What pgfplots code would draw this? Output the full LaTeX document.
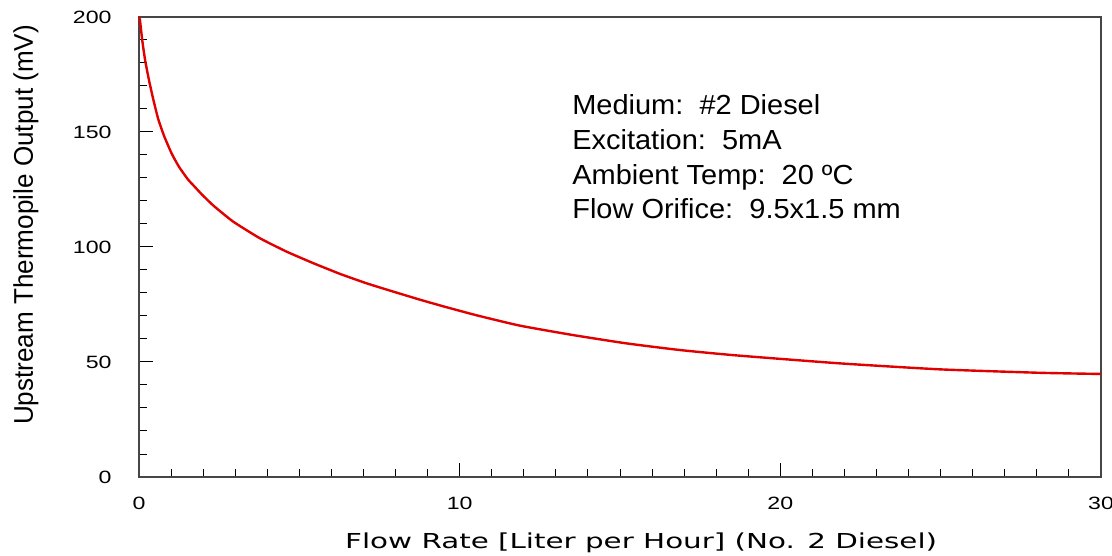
\documentclass[border=0pt]{standalone}
\usepackage{pgfplots}
\pgfplotsset{compat=1.18}
\usepackage{fontspec}
\setmainfont{Liberation Sans}
\newfontfamily\wide{DejaVu Sans}
\usetikzlibrary{calc}
\definecolor{curvered}{RGB}{225,0,0}
\definecolor{axgray}{RGB}{70,70,70}
\begin{document}
\begin{tikzpicture}
\path[use as bounding box] (-69.5pt,-39.5pt) rectangle (486.5pt,238.5pt);
\begin{axis}[
  scale only axis,
  width=481pt, height=230pt,
  xmin=0, xmax=30, ymin=0, ymax=200,
  xtick={0,10,20,30}, ytick={0,50,100,150,200},
  minor x tick num=9, minor y tick num=4,
  tick pos=left, tick align=inside,
  major tick length=7pt, minor tick length=4pt,
  axis line style={axgray, line width=0.6pt},
  every tick/.style={black, line width=0.5pt},
  /pgf/number format/assume math mode=true,
  ticklabel style={font=\fontsize{8.9}{9}\selectfont},
  xticklabel={\scalebox{1.3}[1]{\pgfmathprintnumber{\tick}}},
  yticklabel={\scalebox{1.3}[1]{\pgfmathprintnumber{\tick}}},
  xticklabel style={anchor=north, inner sep=0pt, yshift=-10pt},
  yticklabel style={anchor=east, inner sep=0pt, xshift=-13.5pt},
  clip=false,
]
\addplot[curvered, line width=1.2pt, smooth, tension=0.3] coordinates {
(0,200) (0.03,198.7) (0.10,190) (0.19,181.3) (0.31,172.6) (0.45,163.9)
(0.60,155.6) (0.79,148) (1.02,140.6) (1.25,134.8) (1.53,129.3) (1.69,126.9)
(1.95,123.0) (2.32,118.0) (2.94,111.0) (3.77,103.8) (4.60,98.0) (5.43,93.0)
(6.27,88.3) (7.10,84.2) (7.93,80.6) (8.76,77.1) (9.49,74.2) (10.53,70.3)
(11.88,65.8) (13.54,61.7) (15.2,58.1) (16.87,55.2) (18.6,52.9) (21.86,49.4)
(24.98,46.8) (28.1,45.3) (30,44.8)
};
\tikzset{infotext/.style={anchor=base west, inner sep=0pt, font=\fontsize{13.8}{14}\selectfont}}
\node[infotext] at (axis cs:13.5,157.4) {\scalebox{1.05}[1]{Medium:\ \ \#2 Diesel}};
\node[infotext] at (axis cs:13.5,142.2) {\scalebox{1.05}[1]{Excitation:\ \ 5mA}};
\node[infotext] at (axis cs:13.5,127.0) {\scalebox{1.05}[1]{Ambient Temp:\ \ 20 ºC}};
\node[infotext] at (axis cs:13.5,112.6) {\scalebox{1.05}[1]{Flow Orifice:\ \ 9.5x1.5 mm}};
\node[anchor=base, inner sep=0pt] at ($(rel axis cs:0.522,0)+(0,-35.5pt)$)
  {\resizebox{296pt}{\height}{\wide\fontsize{10.3}{11}\selectfont Flow Rate [Liter per Hour] (No. 2 Diesel)}};
\node[anchor=base, inner sep=0pt, rotate=90] at ($(rel axis cs:0,0.548)+(-53pt,0)$)
  {\resizebox{200pt}{\height}{\fontsize{13.5}{14}\selectfont Upstream Thermopile Output (mV)}};
\end{axis}
\end{tikzpicture}
\end{document}
